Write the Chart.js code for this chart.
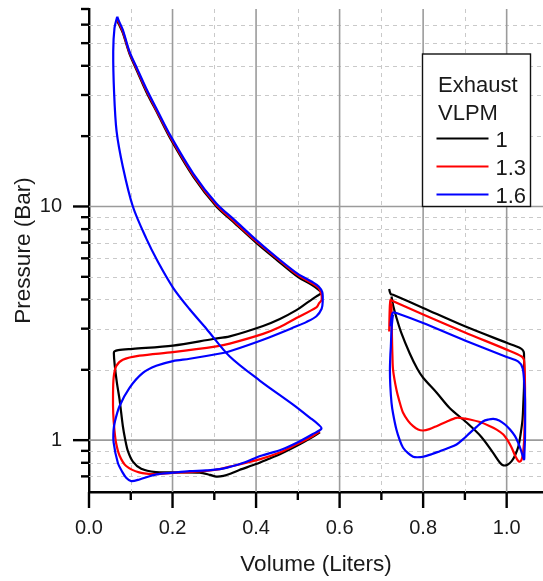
<!DOCTYPE html>
<html>
<head>
<meta charset="utf-8">
<script src="https://cdn.jsdelivr.net/npm/chart.js@4.4.1/dist/chart.umd.min.js"></script>
<style>
  html, body { margin: 0; padding: 0; background: #fff; }
  #wrap { width: 543px; height: 581px; position: relative; }
</style>
</head>
<body>
<div id="wrap"><canvas id="pv"></canvas></div>
<script>
// Exhaust flow settings (VLPM) and their line colours
const seriesLabels = ['1', '1.3', '1.6'];
const seriesColors = ['#000000', '#ff0000', '#0000ff'];

// Axis ticks
const xMajorTicks = [0.0, 0.2, 0.4, 0.6, 0.8, 1.0];
const xMinorTicks = [0.1, 0.3, 0.5, 0.7, 0.9];
const yMajorTicks = [1, 10];
const yMinorTicks = [0.7, 0.8, 0.9, 2, 3, 4, 5, 6, 7, 8, 9, 20, 30, 40, 50, 60, 70];

// VLPM 1 - power cylinder (volume in L, pressure in bar)
const vlpm1LeftV = [0.0675, 0.072, 0.081, 0.097, 0.115, 0.137, 0.165, 0.195, 0.25, 0.305, 0.35, 0.40, 0.45, 0.50, 0.535, 0.55, 0.556,
  0.5445, 0.52, 0.4966, 0.457, 0.4167, 0.337, 0.297, 0.201, 0.105, 0.07, 0.061, 0.0595,
  0.0615, 0.067, 0.073, 0.081, 0.087, 0.093, 0.105, 0.125, 0.16, 0.20, 0.265, 0.29, 0.305, 0.322, 0.34, 0.36, 0.40, 0.433, 0.457, 0.50, 0.535, 0.553];
const vlpm1LeftP = [62.4, 60, 55.3, 45, 38, 31, 24.8, 19.5, 13.4, 10, 8.45, 7.0, 5.9, 5.0, 4.6, 4.4, 4.27,
  4.12, 3.85, 3.6, 3.3, 3.08, 2.78, 2.71, 2.54, 2.46, 2.43, 2.40, 2.36,
  2.1, 1.75, 1.5, 1.15, 1.0, 0.9, 0.81, 0.755, 0.73, 0.728, 0.726, 0.71, 0.698, 0.703, 0.72, 0.745, 0.79, 0.835, 0.87, 0.95, 1.03, 1.08];
// VLPM 1 - exhaust cylinder
const vlpm1RightV = [0.7187, 0.7205, 0.7225, 0.728, 0.8, 0.9, 1.0, 1.032, 1.039, 1.0415, 1.0415, 1.04, 1.038, 1.033, 1.028, 1.02, 1.012, 1.002, 0.992,
  0.984, 0.968, 0.94, 0.904, 0.864, 0.832, 0.80, 0.786, 0.768, 0.748, 0.736, 0.7285, 0.7243];
const vlpm1RightP = [4.44, 4.3, 4.22, 4.19, 3.68, 3.07, 2.61, 2.48, 2.42, 2.35, 1.70, 1.45, 1.226, 1.05, 0.94, 0.86, 0.813, 0.785, 0.78,
  0.80, 0.88, 1.03, 1.19, 1.37, 1.6, 1.85, 2.02, 2.35, 2.87, 3.35, 3.75, 4.12];

// VLPM 1.3 - power cylinder
const vlpm13LeftV = [0.0675, 0.072, 0.081, 0.097, 0.115, 0.137, 0.165, 0.195, 0.25, 0.305, 0.35, 0.40, 0.45, 0.50, 0.535, 0.55, 0.5565, 0.557,
  0.551, 0.5445, 0.4966, 0.457, 0.4167, 0.337, 0.305, 0.201, 0.121, 0.081, 0.065, 0.059, 0.0575, 0.058, 0.061, 0.065,
  0.073, 0.089, 0.12, 0.16, 0.20, 0.241, 0.30, 0.337, 0.41, 0.46, 0.50, 0.535, 0.553];
const vlpm13LeftP = [63.5, 61, 56, 45.5, 38.5, 31.5, 25.1, 19.8, 13.6, 10.15, 8.55, 7.1, 6.0, 5.08, 4.68, 4.48, 4.2, 3.98,
  3.86, 3.7, 3.33, 3.05, 2.85, 2.59, 2.52, 2.38, 2.30, 2.21, 2.07, 1.85, 1.55, 1.3, 1.1, 0.97,
  0.86, 0.775, 0.728, 0.715, 0.725, 0.73, 0.745, 0.77, 0.83, 0.89, 0.965, 1.04, 1.09];
// VLPM 1.3 - exhaust cylinder
const vlpm13RightV = [0.7187, 0.7195, 0.7205, 0.722, 0.7243, 0.8, 0.9, 1.0, 1.036, 1.0415, 1.0435, 1.044, 1.0425, 1.0415, 1.039, 1.036, 1.032, 1.028,
  1.02, 1.012, 1.002, 0.992, 0.976, 0.96, 0.936, 0.912, 0.895, 0.88, 0.856, 0.832, 0.815, 0.80, 0.788, 0.776, 0.764, 0.752, 0.744, 0.736,
  0.728, 0.7265, 0.7259, 0.725, 0.7245, 0.7243];
const vlpm13RightP = [2.92, 3.4, 3.8, 3.99, 3.96, 3.45, 2.89, 2.44, 2.28, 2.20, 1.9, 1.445, 1.1, 0.975, 0.88, 0.827, 0.81, 0.813,
  0.86, 0.928, 1.0, 1.058, 1.11, 1.148, 1.195, 1.226, 1.24, 1.246, 1.2, 1.148, 1.115, 1.10, 1.11, 1.148, 1.21, 1.31, 1.45, 1.647,
  2.0, 2.3, 2.52, 3.0, 3.5, 3.85];

// VLPM 1.6 - power cylinder
const vlpm16LeftV = [0.0675, 0.072, 0.081, 0.097, 0.115, 0.137, 0.165, 0.195, 0.25, 0.305, 0.35, 0.40, 0.45, 0.50, 0.535, 0.55, 0.5585, 0.5595, 0.557,
  0.5445, 0.52, 0.4966, 0.4167, 0.337, 0.3207, 0.241, 0.201, 0.161, 0.129, 0.097, 0.073, 0.062, 0.0587, 0.059, 0.069, 0.08, 0.089, 0.101, 0.121,
  0.161, 0.201, 0.241, 0.28, 0.32, 0.37, 0.41, 0.46, 0.50, 0.535, 0.5565,
  0.5485, 0.5285, 0.4886, 0.4087, 0.337, 0.281, 0.24, 0.201, 0.165, 0.137, 0.105, 0.081, 0.066, 0.060, 0.058, 0.061, 0.0675];
const vlpm16LeftP = [64.9, 62, 57, 46, 39, 32, 25.5, 20.1, 13.8, 10.3, 8.7, 7.2, 6.05, 5.15, 4.75, 4.55, 4.3, 3.9, 3.65,
  3.39, 3.2, 3.07, 2.69, 2.40, 2.36, 2.23, 2.18, 2.08, 1.94, 1.675, 1.397, 1.2, 1.1, 0.975, 0.80, 0.73, 0.691, 0.668, 0.679,
  0.714, 0.726, 0.737, 0.742, 0.755, 0.80, 0.855, 0.91, 0.98, 1.06, 1.12,
  1.17, 1.25, 1.42, 1.8, 2.28, 3.0, 3.65, 4.5, 5.8, 7.3, 10, 14.8, 21, 31, 46, 58, 64.9];
// VLPM 1.6 - exhaust cylinder
const vlpm16RightV = [0.722, 0.7235, 0.7255, 0.728, 0.736, 0.8, 0.9, 1.0, 1.028, 1.038, 1.0415, 1.044, 1.044, 1.0425, 1.0415,
  1.0335, 1.028, 1.020, 1.008, 0.996, 0.982, 0.968, 0.956, 0.944, 0.928, 0.912, 0.896, 0.880, 0.860, 0.840, 0.820, 0.80, 0.786, 0.776,
  0.764, 0.752, 0.744, 0.736, 0.728, 0.7243, 0.7215, 0.7205, 0.7215, 0.7227, 0.7243, 0.7265, 0.728];
const vlpm16RightP = [3.07, 3.3, 3.45, 3.52, 3.50, 3.17, 2.67, 2.27, 2.17, 2.04, 1.816, 1.5, 1.04, 0.88, 0.827,
  0.913, 0.97, 1.04, 1.11, 1.167, 1.215, 1.234, 1.225, 1.205, 1.14, 1.075, 1.01, 0.958, 0.925, 0.897, 0.87, 0.849, 0.845, 0.849,
  0.88, 0.928, 1.0, 1.11, 1.3, 1.445, 1.7, 2.0, 2.3, 2.52, 2.97, 3.3, 3.45];

const seriesLoops = [
  [[vlpm1LeftV, vlpm1LeftP], [vlpm1RightV, vlpm1RightP]],
  [[vlpm13LeftV, vlpm13LeftP], [vlpm13RightV, vlpm13RightP]],
  [[vlpm16LeftV, vlpm16LeftP], [vlpm16RightV, vlpm16RightP]]
];

const FONT = '"Liberation Sans", Arial, Helvetica, sans-serif';
const TEXT = '#1a1a1a';

const datasets = [];
seriesLoops.forEach((loops, s) => {
  loops.forEach(([vs, ps]) => {
    datasets.push({
      label: seriesLabels[s],
      data: vs.map((v, i) => ({ x: v, y: ps[i] })),
      borderColor: seriesColors[s],
      backgroundColor: seriesColors[s],
      borderWidth: 2.2,
      showLine: true,
      pointRadius: 0,
      tension: 0.3,
      fill: false,
      order: 3 - s
    });
  });
});

// Grid lines, outward tick marks and the boxed legend
const decorations = {
  id: 'decorations',
  beforeDatasetsDraw(chart) {
    const { ctx, chartArea: a, scales: { x, y } } = chart;
    ctx.save();
    ctx.beginPath();
    ctx.rect(a.left, a.top, a.right - a.left, a.bottom - a.top);
    ctx.clip();
    ctx.lineWidth = 1;
    ctx.strokeStyle = '#c9c9c9';
    ctx.setLineDash([4, 4]);
    xMinorTicks.forEach(v => {
      const px = Math.round(x.getPixelForValue(v)) + 0.5;
      ctx.beginPath(); ctx.moveTo(px, a.top); ctx.lineTo(px, a.bottom); ctx.stroke();
    });
    yMinorTicks.forEach(p => {
      const py = Math.round(y.getPixelForValue(p)) + 0.5;
      if (py < a.top + 2) return;
      ctx.beginPath(); ctx.moveTo(a.left, py); ctx.lineTo(a.right, py); ctx.stroke();
    });
    ctx.setLineDash([]);
    ctx.strokeStyle = '#9b9b9b';
    ctx.lineWidth = 1.6;
    xMajorTicks.forEach(v => {
      if (v === 0) return;
      const px = x.getPixelForValue(v);
      ctx.beginPath(); ctx.moveTo(px, a.top); ctx.lineTo(px, a.bottom); ctx.stroke();
    });
    yMajorTicks.forEach(p => {
      const py = y.getPixelForValue(p);
      ctx.beginPath(); ctx.moveTo(a.left, py); ctx.lineTo(a.right, py); ctx.stroke();
    });
    ctx.restore();
  },
  afterDraw(chart) {
    const { ctx, chartArea: a, scales: { x, y } } = chart;
    ctx.save();
    // tick marks
    ctx.strokeStyle = '#000';
    ctx.lineWidth = 2.4;
    const tick = (x1, y1, x2, y2) => { ctx.beginPath(); ctx.moveTo(x1, y1); ctx.lineTo(x2, y2); ctx.stroke(); };
    xMajorTicks.forEach(v => { const px = x.getPixelForValue(v); tick(px, a.bottom, px, a.bottom + 16); });
    xMinorTicks.forEach(v => { const px = x.getPixelForValue(v); tick(px, a.bottom, px, a.bottom + 8); });
    yMajorTicks.forEach(p => { const py = y.getPixelForValue(p); tick(a.left - 16, py, a.left, py); });
    yMinorTicks.forEach(p => { const py = y.getPixelForValue(p); tick(a.left - 8, py, a.left, py); });

    // legend box
    const lx = a.right - 120.5, ly = a.top + 45, lw = 108, lh = y.getPixelForValue(10) - ly;
    ctx.fillStyle = '#fff';
    ctx.fillRect(lx, ly, lw, lh);
    ctx.strokeStyle = '#111';
    ctx.lineWidth = 1.4;
    ctx.strokeRect(lx, ly, lw, lh);
    ctx.fillStyle = TEXT;
    ctx.font = '22px ' + FONT;
    ctx.textAlign = 'left';
    ctx.textBaseline = 'alphabetic';
    ctx.fillText('Exhaust', lx + 15.5, ly + 37.5);
    ctx.fillText('VLPM', lx + 15.5, ly + 65.5);
    seriesLabels.forEach((lab, i) => {
      const rowY = ly + 84.5 + i * 28;
      ctx.strokeStyle = seriesColors[i];
      ctx.lineWidth = 2.2;
      ctx.beginPath(); ctx.moveTo(lx + 14, rowY); ctx.lineTo(lx + 66, rowY); ctx.stroke();
      ctx.fillStyle = TEXT;
      ctx.fillText(lab, lx + 73, rowY + 8);
    });
    ctx.restore();
  }
};

new Chart(document.getElementById('pv'), {
  type: 'scatter',
  data: { datasets },
  options: {
    responsive: true,
    maintainAspectRatio: false,
    animation: false,
    layout: { padding: { top: 9, right: 0, left: 0, bottom: 0 } },
    plugins: { legend: { display: false }, tooltip: { enabled: false } },
    scales: {
      x: {
        type: 'linear',
        min: 0,
        max: 1.087,
        afterBuildTicks: s => { s.ticks = xMajorTicks.map(v => ({ value: v })); },
        afterFit: s => { s.height = 89; s.paddingLeft = 0; s.paddingRight = 0; },
        ticks: {
          autoSkip: false,
          maxRotation: 0,
          padding: 24,
          color: TEXT,
          font: { size: 20, family: FONT },
          callback: v => Number(v).toFixed(1)
        },
        grid: { drawOnChartArea: false, drawTicks: false },
        border: { display: true, color: '#000', width: 2.4 },
        title: {
          display: true,
          text: 'Volume (Liters)',
          color: TEXT,
          font: { size: 22.5, family: FONT },
          padding: { top: 0, bottom: 3 }
        }
      },
      y: {
        type: 'logarithmic',
        min: 0.6,
        max: 70,
        afterBuildTicks: s => { s.ticks = yMajorTicks.map(v => ({ value: v })); },
        afterFit: s => { s.width = 89; s.paddingTop = 0; s.paddingBottom = 0; },
        ticks: {
          autoSkip: false,
          padding: 27,
          color: TEXT,
          font: { size: 20, family: FONT },
          callback: v => String(v)
        },
        grid: { drawOnChartArea: false, drawTicks: false },
        border: { display: true, color: '#000', width: 2.4 },
        title: {
          display: true,
          text: 'Pressure (Bar)',
          color: TEXT,
          font: { size: 22.5, family: FONT },
          padding: { top: 10, bottom: 0 }
        }
      }
    }
  },
  plugins: [decorations]
});
</script>
</body>
</html>
